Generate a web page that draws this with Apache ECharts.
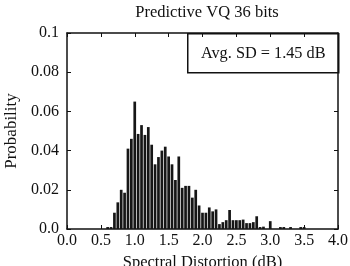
<!DOCTYPE html>
<html>
<head>
<meta charset="utf-8">
<script src="https://cdn.jsdelivr.net/npm/echarts@6/dist/echarts.min.js"></script>
<style>
html,body{margin:0;padding:0;background:#fff;}
#c{width:350px;height:266px;}
</style>
</head>
<body>
<div id="c"></div>
<script>
var binCenters = [0.60,0.65,0.70,0.75,0.80,0.85,0.90,0.95,1.00,1.05,1.10,1.15,1.20,1.25,1.30,1.35,1.40,1.45,1.50,1.55,1.60,1.65,1.70,1.75,1.80,1.85,1.90,1.95,2.00,2.05,2.10,2.15,2.20,2.25,2.30,2.35,2.40,2.45,2.50,2.55,2.60,2.65,2.70,2.75,2.80,2.85,2.90,2.95,3.00,3.05,3.10,3.15,3.20,3.25,3.30,3.35,3.40,3.45,3.50];
var probability = [0.001,0.001,0.0083,0.0136,0.020,0.0185,0.041,0.046,0.065,0.0485,0.053,0.048,0.052,0.043,0.033,0.0367,0.040,0.042,0.037,0.033,0.025,0.037,0.021,0.022,0.022,0.016,0.020,0.012,0.0083,0.0083,0.011,0.009,0.010,0.0025,0.0035,0.0045,0.0097,0.0045,0.0045,0.0045,0.0048,0.003,0.003,0.0035,0.0065,0.001,0.0012,0,0.004,0,0,0.001,0.001,0,0.001,0,0,0.001,0.001];
var titleText = "Predictive VQ 36 bits";
var xAxisName = "Spectral Distortion (dB)";
var yAxisName = "Probability";
var noteText = "Avg. SD = 1.45 dB";

var FONT = "Liberation Serif";
var chart = echarts.init(document.getElementById('c'), null, {renderer:'canvas'});
var data = binCenters.map(function(x,i){return [x, probability[i]];});
var axisLine = {show:true, onZero:false, lineStyle:{color:'#111', width:1.5}};
var ticks = {show:true, inside:true, length:4, lineStyle:{color:'#111', width:1}};
chart.setOption({
  backgroundColor:'#fff',
  animation:false,
  title:{text:titleText, left:202, top:-1, textAlign:'center',
    textStyle:{fontFamily:FONT, fontSize:16.5, fontWeight:'normal', color:'#111'}},
  grid:{left:67, right:12, top:33, bottom:37, containLabel:false, outerBoundsMode:'none'},
  xAxis:[{type:'value', min:0, max:4, interval:0.5, position:'bottom',
      name:xAxisName, nameLocation:'middle', nameGap:24,
      nameTextStyle:{fontFamily:FONT, fontSize:16.5, color:'#111'},
      axisLine:axisLine, axisTick:ticks, splitLine:{show:false},
      axisLabel:{fontFamily:FONT, fontSize:16, color:'#111', margin:4,
        formatter:function(v){return v.toFixed(1);}}},
    {type:'value', min:0, max:4, interval:0.5, position:'top',
      axisLine:axisLine, axisTick:ticks, splitLine:{show:false}, axisLabel:{show:false}}],
  yAxis:[{type:'value', min:0, max:0.1, interval:0.02, position:'left',
      name:yAxisName, nameLocation:'middle', nameGap:44, nameRotate:90,
      nameTextStyle:{fontFamily:FONT, fontSize:17, color:'#111'},
      axisLine:axisLine, axisTick:ticks, splitLine:{show:false},
      axisLabel:{fontFamily:FONT, fontSize:16, color:'#111', margin:8,
        formatter:function(v){ if(v===0) return '0.0'; if(Math.abs(v-0.1)<1e-9) return '0.1'; return v.toFixed(2);}}},
    {type:'value', min:0, max:0.1, interval:0.02, position:'right',
      axisLine:axisLine, axisTick:ticks, splitLine:{show:false}, axisLabel:{show:false}}],
  series:[{type:'bar', xAxisIndex:0, yAxisIndex:0, data:data, barWidth:2.7,
    itemStyle:{color:'#161616'}}],
  graphic:[{type:'group', left:187, top:33, children:[
    {type:'rect', shape:{x:0,y:0,width:151,height:39}, style:{fill:'#fff', stroke:'#111', lineWidth:1.5}},
    {type:'text', x:75.5, y:20, style:{text:noteText, fontFamily:FONT, fontSize:16.3, fill:'#111', align:'center', verticalAlign:'middle'}}
  ]}]
});
</script>
</body>
</html>
